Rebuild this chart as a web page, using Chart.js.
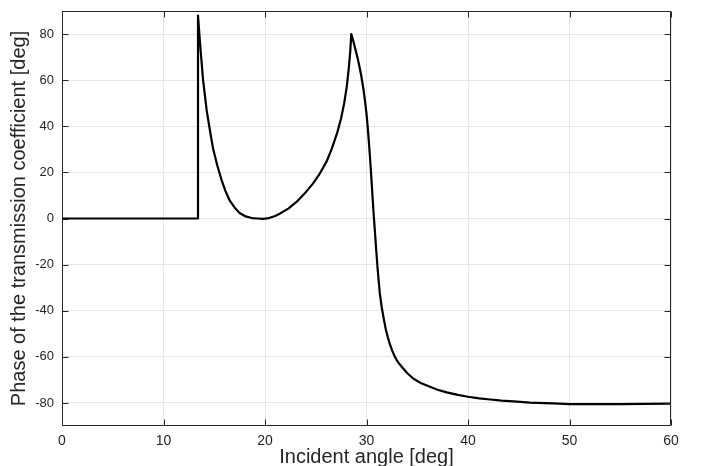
<!DOCTYPE html>
<html>
<head>
<meta charset="utf-8">
<script src="https://cdn.jsdelivr.net/npm/chart.js@4"></script>
<style>
  html, body { margin: 0; padding: 0; background: #fff; }
  #wrap { width: 704px; height: 466px; }
</style>
</head>
<body>
<div id="wrap"><canvas id="chart" width="704" height="466"></canvas></div>
<script>
// incident angle [deg] and phase [deg]
const angles = [
    0, 13.4, 13.4, 13.6, 13.9, 14.25, 14.6, 14.9, 15.3, 15.7, 16.1, 16.5, 17.0, 17.5,
    18.1, 18.7, 19.3, 19.8, 20.4, 21.0, 21.5, 22.3, 23.1, 23.9, 24.7, 25.4, 26.1,
    26.6, 27.1, 27.5, 27.8, 28.05, 28.25, 28.4, 28.5,
    28.7, 28.9, 29.1, 29.3, 29.5, 29.7, 29.85, 30.0, 30.12, 30.24, 30.36, 30.48,
    30.6, 30.72, 30.85, 30.97, 31.1, 31.2, 31.3, 31.5, 31.7, 31.9, 32.1, 32.3,
    32.55, 32.8, 33.1, 33.47, 34.0,
    34.6, 35.4, 36.25, 37.0, 37.9, 39.0, 40.0, 41.1, 42.2, 43.3, 44.5, 46.1, 48.4,
    50, 55, 60
];
const phases = [
    0, 0, 88, 76, 60, 47, 37.5, 30, 23, 17, 12, 8, 4.8, 2.4,
    0.9, 0.2, 0, -0.2, 0.2, 1.1, 2.2, 4.3, 7.2, 10.8, 15, 19.5, 25,
    30.5, 37, 43.5, 50, 57, 65, 72.5, 80,
    77, 73.5, 70, 66, 61.5, 56, 51, 45.5, 39.5, 33, 25.5, 17.5,
    9, 1, -7, -14.5, -22, -27, -32, -38.5, -43.5, -48, -51.5, -54.5,
    -57.5, -60, -62.3, -64.3, -67,
    -69.4, -71.5, -73, -74.3, -75.4, -76.5, -77.3, -78, -78.5, -79, -79.3, -79.9, -80.2,
    -80.5, -80.5, -80.3
];
const xTicks = [0, 10, 20, 30, 40, 50, 60];
const yTicks = [-80, -60, -40, -20, 0, 20, 40, 60, 80];

const axisColor = '#262626';

// MATLAB style box with inward tick marks on all four sides
const boxPlugin = {
    id: 'box',
    afterDraw(chart) {
        const { ctx, chartArea: a, scales: { x, y } } = chart;
        const l = Math.round(a.left) + 0.5;
        const r = Math.round(a.right) - 0.5;
        const t = Math.round(a.top) + 0.5;
        const b = Math.round(a.bottom) - 0.5;
        const len = 6;
        ctx.save();
        ctx.strokeStyle = axisColor;
        ctx.lineWidth = 1;
        ctx.beginPath();
        ctx.rect(l, t, r - l, b - t);
        xTicks.forEach(v => {
            const px = Math.round(x.getPixelForValue(v)) + 0.5;
            ctx.moveTo(px, b); ctx.lineTo(px, b - len);
            ctx.moveTo(px, t); ctx.lineTo(px, t + len);
        });
        yTicks.forEach(v => {
            const py = Math.round(y.getPixelForValue(v)) + 0.5;
            ctx.moveTo(l, py); ctx.lineTo(l + len, py);
            ctx.moveTo(r, py); ctx.lineTo(r - len, py);
        });
        ctx.stroke();
        ctx.restore();
    }
};

const points = angles.map((a, i) => ({ x: a, y: phases[i] }));

new Chart(document.getElementById('chart'), {
    type: 'line',
    data: {
        datasets: [{
            data: points,
            borderColor: '#000000',
            borderWidth: 2.2,
            borderJoinStyle: 'round',
            pointRadius: 0,
            tension: 0,
            fill: false,
        }]
    },
    options: {
        responsive: false,
        animation: false,
        devicePixelRatio: 1,
        layout: { padding: { left: 0, right: 33, top: 11, bottom: 0 } },
        plugins: {
            legend: { display: false },
            tooltip: { enabled: false },
        },
        scales: {
            x: {
                type: 'linear',
                min: 0,
                max: 60,
                afterBuildTicks: (scale) => { scale.ticks = xTicks.map(v => ({ value: v })); },
                afterFit: (scale) => {
                    scale.height = 40;
                    scale.paddingLeft = 0;
                    scale.paddingRight = 0;
                },
                grid: { color: '#e6e6e6', lineWidth: 1, drawTicks: false },
                border: { display: false },
                ticks: {
                    color: axisColor,
                    padding: 7,
                    maxRotation: 0,
                    font: { family: 'Liberation Sans, Arial, sans-serif', size: 14 },
                },
                title: {
                    display: true,
                    text: 'Incident angle [deg]',
                    color: axisColor,
                    padding: 0,
                    font: { family: 'Liberation Sans, Arial, sans-serif', size: 20, lineHeight: 0.9 },
                },
            },
            y: {
                type: 'linear',
                min: -90,
                max: 90,
                afterBuildTicks: (scale) => { scale.ticks = yTicks.map(v => ({ value: v })); },
                afterFit: (scale) => {
                    scale.width = 62;
                    scale.paddingTop = 0;
                    scale.paddingBottom = 0;
                },
                grid: { color: '#e6e6e6', lineWidth: 1, drawTicks: false },
                border: { display: false },
                ticks: {
                    color: axisColor,
                    padding: 8,
                    font: { family: 'Liberation Sans, Arial, sans-serif', size: 13 },
                },
                title: {
                    display: true,
                    text: 'Phase of the transmission coefficient [deg]',
                    color: axisColor,
                    padding: { top: 9, bottom: 0 },
                    font: { family: 'Liberation Sans, Arial, sans-serif', size: 20, lineHeight: 1 },
                },
            }
        }
    },
    plugins: [boxPlugin]
});
</script>
</body>
</html>
